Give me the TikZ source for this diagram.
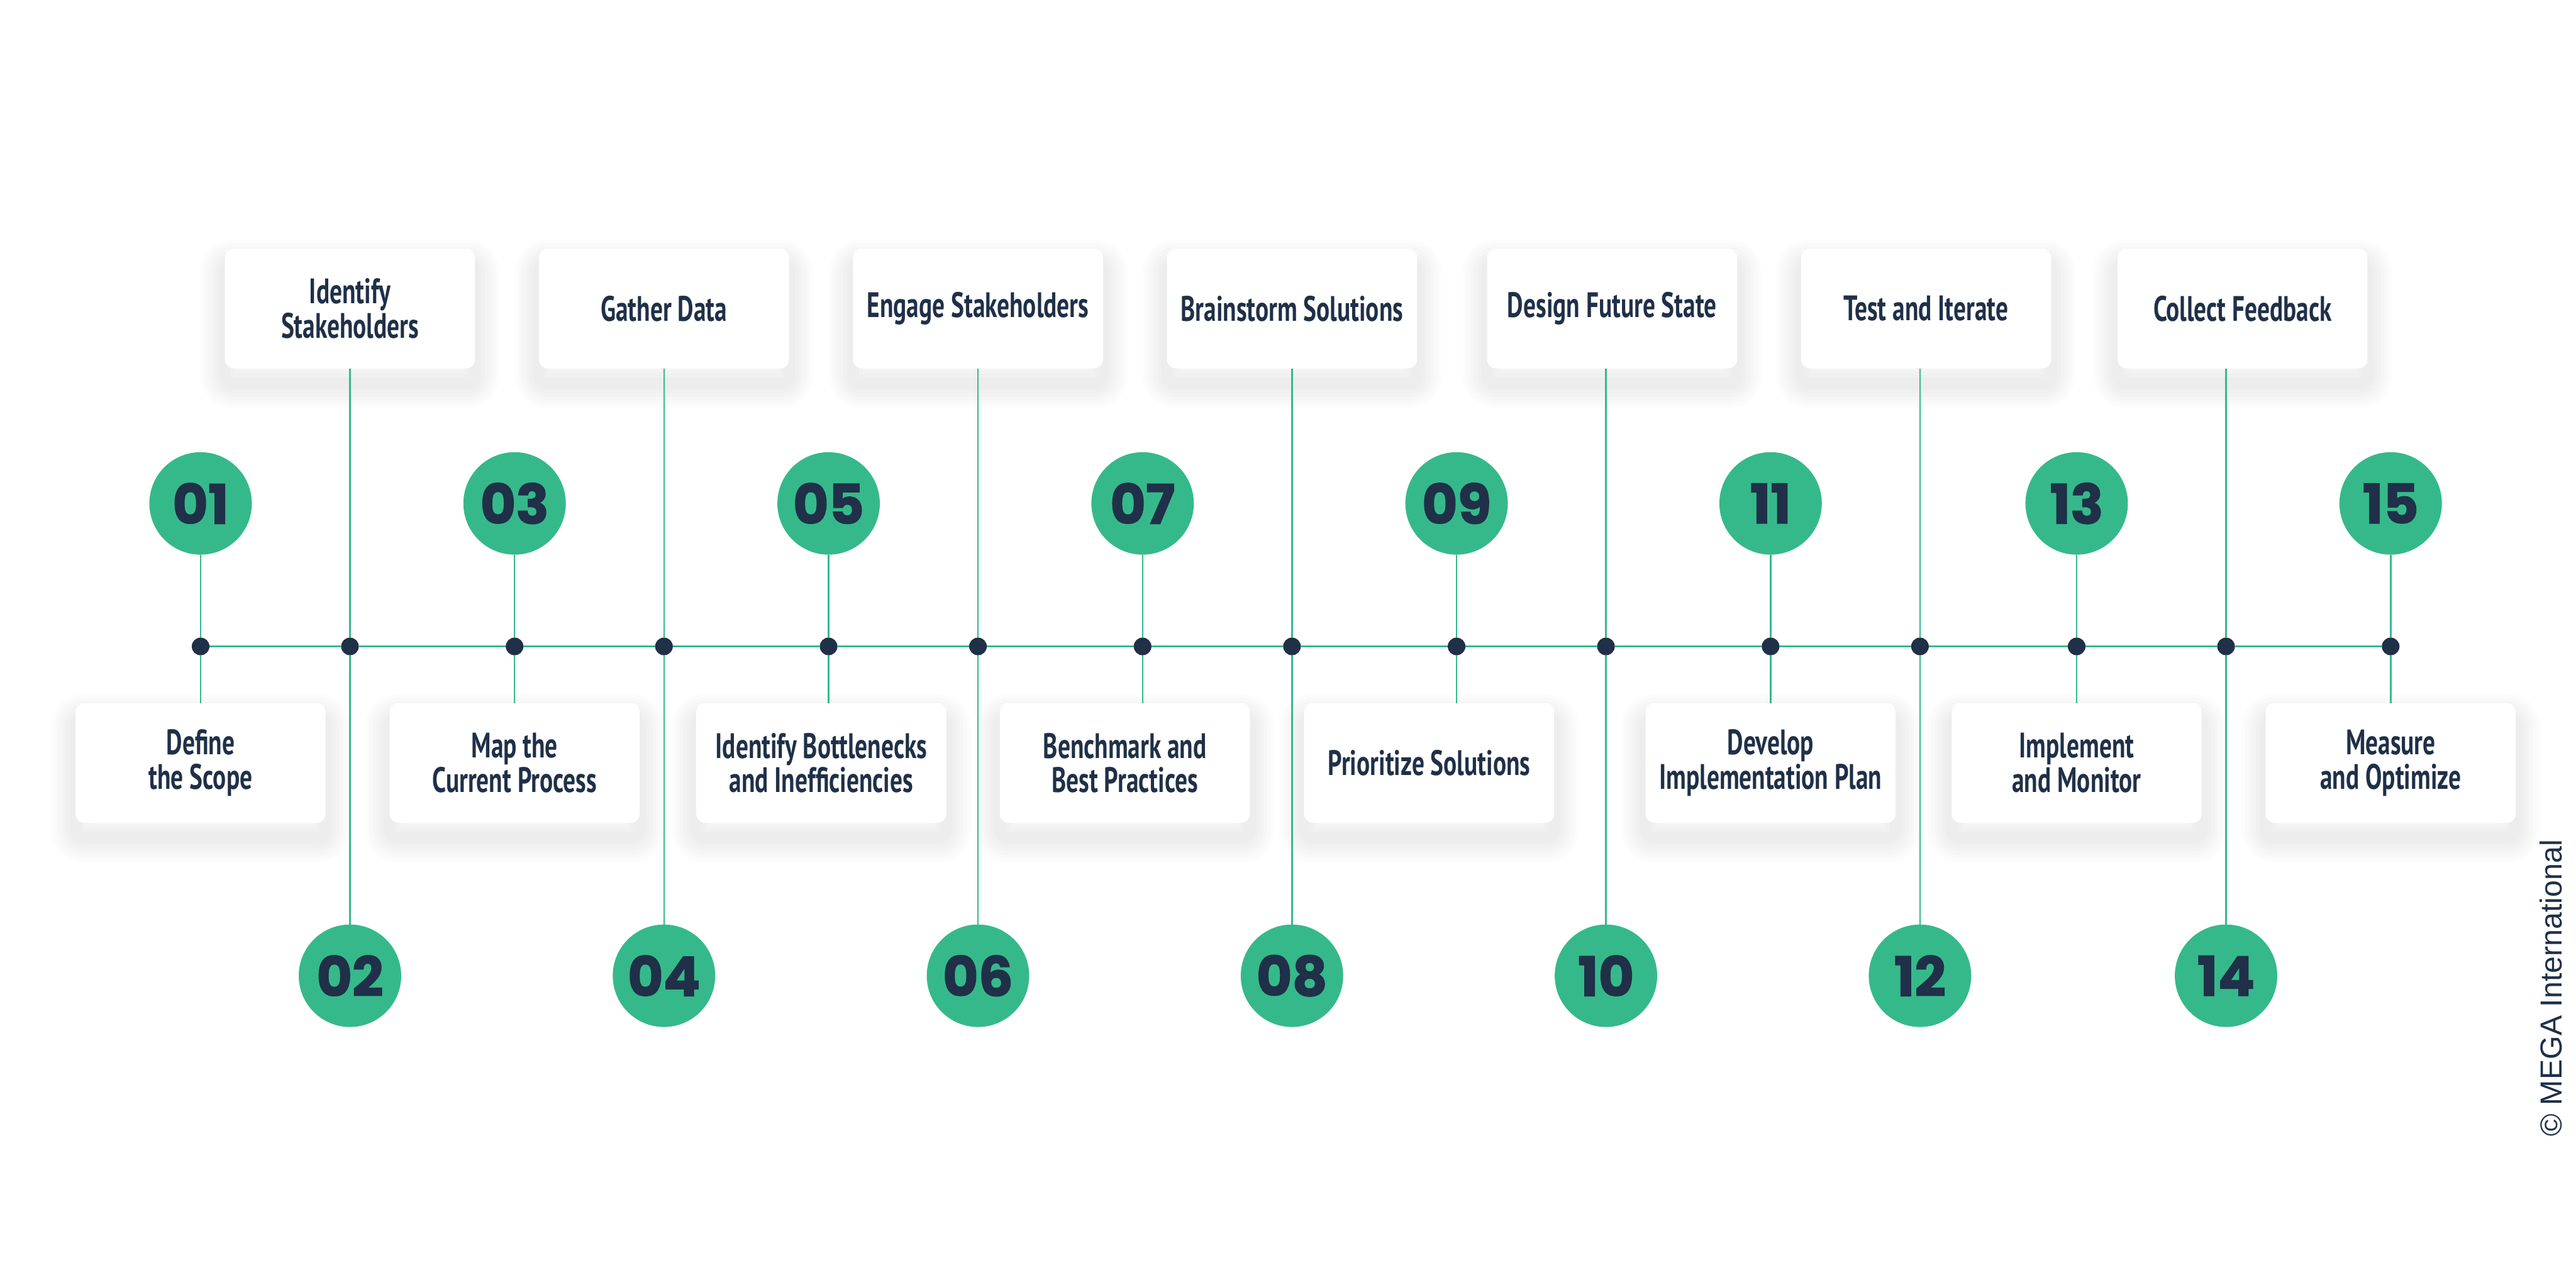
\documentclass[tikz,border=0pt]{standalone}
\usepackage{fontspec}
\setmainfont{PT Sans}[FakeStretch=0.7]
\newfontfamily\numfont{Poppins}[BoldFeatures={FakeBold=1.6}]
\newfontfamily\copyfont{Liberation Sans}
\usetikzlibrary{positioning}
\definecolor{mgreen}{HTML}{35B98B}
\definecolor{navy}{HTML}{1F3048}

\begin{document}
\begin{tikzpicture}[node distance=1cm]
  \tikzstyle{dot}=[circle,fill=navy,minimum size=0.29cm,inner sep=0pt,outer sep=0pt]
  \tikzstyle{num}=[circle,fill=mgreen,minimum size=1.68cm,inner sep=0pt,outer sep=0pt,text=navy,font=\numfont\bfseries\fontsize{25.5}{25.5}\selectfont]
  \tikzstyle{haze}=[draw=black,draw opacity=0.013,transform canvas={yshift=-0.25cm}]
  \tikzstyle{card}=[fill=white,rounded corners=4pt,minimum width=4.1cm,minimum height=1.96cm,inner sep=0pt,outer sep=0pt,align=center,text=navy,font=\bfseries\fontsize{16.5}{16}\selectfont,
    preaction={haze,line width=0.8cm},preaction={haze,line width=0.68cm},preaction={haze,line width=0.56cm},
    preaction={haze,line width=0.44cm},preaction={haze,line width=0.32cm},preaction={haze,line width=0.2cm}]
  \tikzstyle{link}=[mgreen,line width=0.7pt]
  \fill[white] (0,0) rectangle (42.25,20.93);
  \useasboundingbox (0,0) rectangle (42.25,20.93);

  % timeline
  \node[dot] (d01) at (3.29,10.33) {};
  \node[dot,right=2.16cm of d01] (d02) {};
  \node[dot,right=2.41cm of d02] (d03) {};
  \node[dot,right=2.16cm of d03] (d04) {};
  \node[dot,right=2.41cm of d04] (d05) {};
  \node[dot,right=2.16cm of d05] (d06) {};
  \node[dot,right=2.41cm of d06] (d07) {};
  \node[dot,right=2.16cm of d07] (d08) {};
  \node[dot,right=2.41cm of d08] (d09) {};
  \node[dot,right=2.16cm of d09] (d10) {};
  \node[dot,right=2.41cm of d10] (d11) {};
  \node[dot,right=2.16cm of d11] (d12) {};
  \node[dot,right=2.28cm of d12] (d13) {};
  \node[dot,right=2.16cm of d13] (d14) {};
  \node[dot,right=2.41cm of d14] (d15) {};

  % odd steps: number above, card below
  \node[num,above=1.36cm of d01] (c01) {01};
  \node[num,above=1.36cm of d03] (c03) {03};
  \node[num,above=1.36cm of d05] (c05) {05};
  \node[num,above=1.36cm of d07] (c07) {07};
  \node[num,above=1.36cm of d09] (c09) {09};
  \node[num,above=1.36cm of d11] (c11) {11};
  \node[num,above=1.36cm of d13] (c13) {13};
  \node[num,above=1.36cm of d15] (c15) {15};
  \node[card,below=0.785cm of d01] (b01) {Define\\the Scope};
  \node[card,below=0.785cm of d03] (b03) {Map the\\Current Process};
  \node[card,below=0.785cm of d05,xshift=-0.12cm] (b05) {Identify Bottlenecks\\and Inefficiencies};
  \node[card,below=0.785cm of d07,xshift=-0.29cm] (b07) {Benchmark and\\Best Practices};
  \node[card,below=0.785cm of d09,xshift=-0.45cm] (b09) {Prioritize Solutions};
  \node[card,below=0.785cm of d11] (b11) {Develop\\Implementation Plan};
  \node[card,below=0.785cm of d13] (b13) {Implement\\and Monitor};
  \node[card,below=0.785cm of d15] (b15) {Measure\\and Optimize};

  % even steps: card above, number below
  \node[card,above=4.415cm of d02] (b02) {Identify\\Stakeholders};
  \node[card,above=4.415cm of d04] (b04) {Gather Data};
  \node[card,above=4.415cm of d06] (b06) {Engage Stakeholders};
  \node[card,above=4.415cm of d08] (b08) {Brainstorm Solutions};
  \node[card,above=4.415cm of d10,xshift=0.1cm] (b10) {Design Future State};
  \node[card,above=4.415cm of d12,xshift=0.1cm] (b12) {Test and Iterate};
  \node[card,above=4.415cm of d14,xshift=0.27cm] (b14) {Collect Feedback};
  \node[num,below=4.415cm of d02] (c02) {02};
  \node[num,below=4.415cm of d04] (c04) {04};
  \node[num,below=4.415cm of d06] (c06) {06};
  \node[num,below=4.415cm of d08] (c08) {08};
  \node[num,below=4.415cm of d10] (c10) {10};
  \node[num,below=4.415cm of d12] (c12) {12};
  \node[num,below=4.415cm of d14] (c14) {14};

  \draw[link] (d01) -- (d02) -- (d03) -- (d04) -- (d05) -- (d06) -- (d07) -- (d08)
    -- (d09) -- (d10) -- (d11) -- (d12) -- (d13) -- (d14) -- (d15);
  \draw[link] (c01) -- (d01) -- (d01 |- b01.north);
  \draw[link] (c03) -- (d03) -- (d03 |- b03.north);
  \draw[link] (c05) -- (d05) -- (d05 |- b05.north);
  \draw[link] (c07) -- (d07) -- (d07 |- b07.north);
  \draw[link] (c09) -- (d09) -- (d09 |- b09.north);
  \draw[link] (c11) -- (d11) -- (d11 |- b11.north);
  \draw[link] (c13) -- (d13) -- (d13 |- b13.north);
  \draw[link] (c15) -- (d15) -- (d15 |- b15.north);
  \draw[link] (b02.south -| d02) -- (d02) -- (c02);
  \draw[link] (b04.south -| d04) -- (d04) -- (c04);
  \draw[link] (b06.south -| d06) -- (d06) -- (c06);
  \draw[link] (b08.south -| d08) -- (d08) -- (c08);
  \draw[link] (b10.south -| d10) -- (d10) -- (c10);
  \draw[link] (b12.south -| d12) -- (d12) -- (c12);
  \draw[link] (b14.south -| d14) -- (d14) -- (c14);

  \node[rotate=90,text=navy,font=\copyfont\fontsize{14.2}{14.2}\selectfont] (copy) at (41.84,4.73) {© MEGA International};
\end{tikzpicture}
\end{document}
